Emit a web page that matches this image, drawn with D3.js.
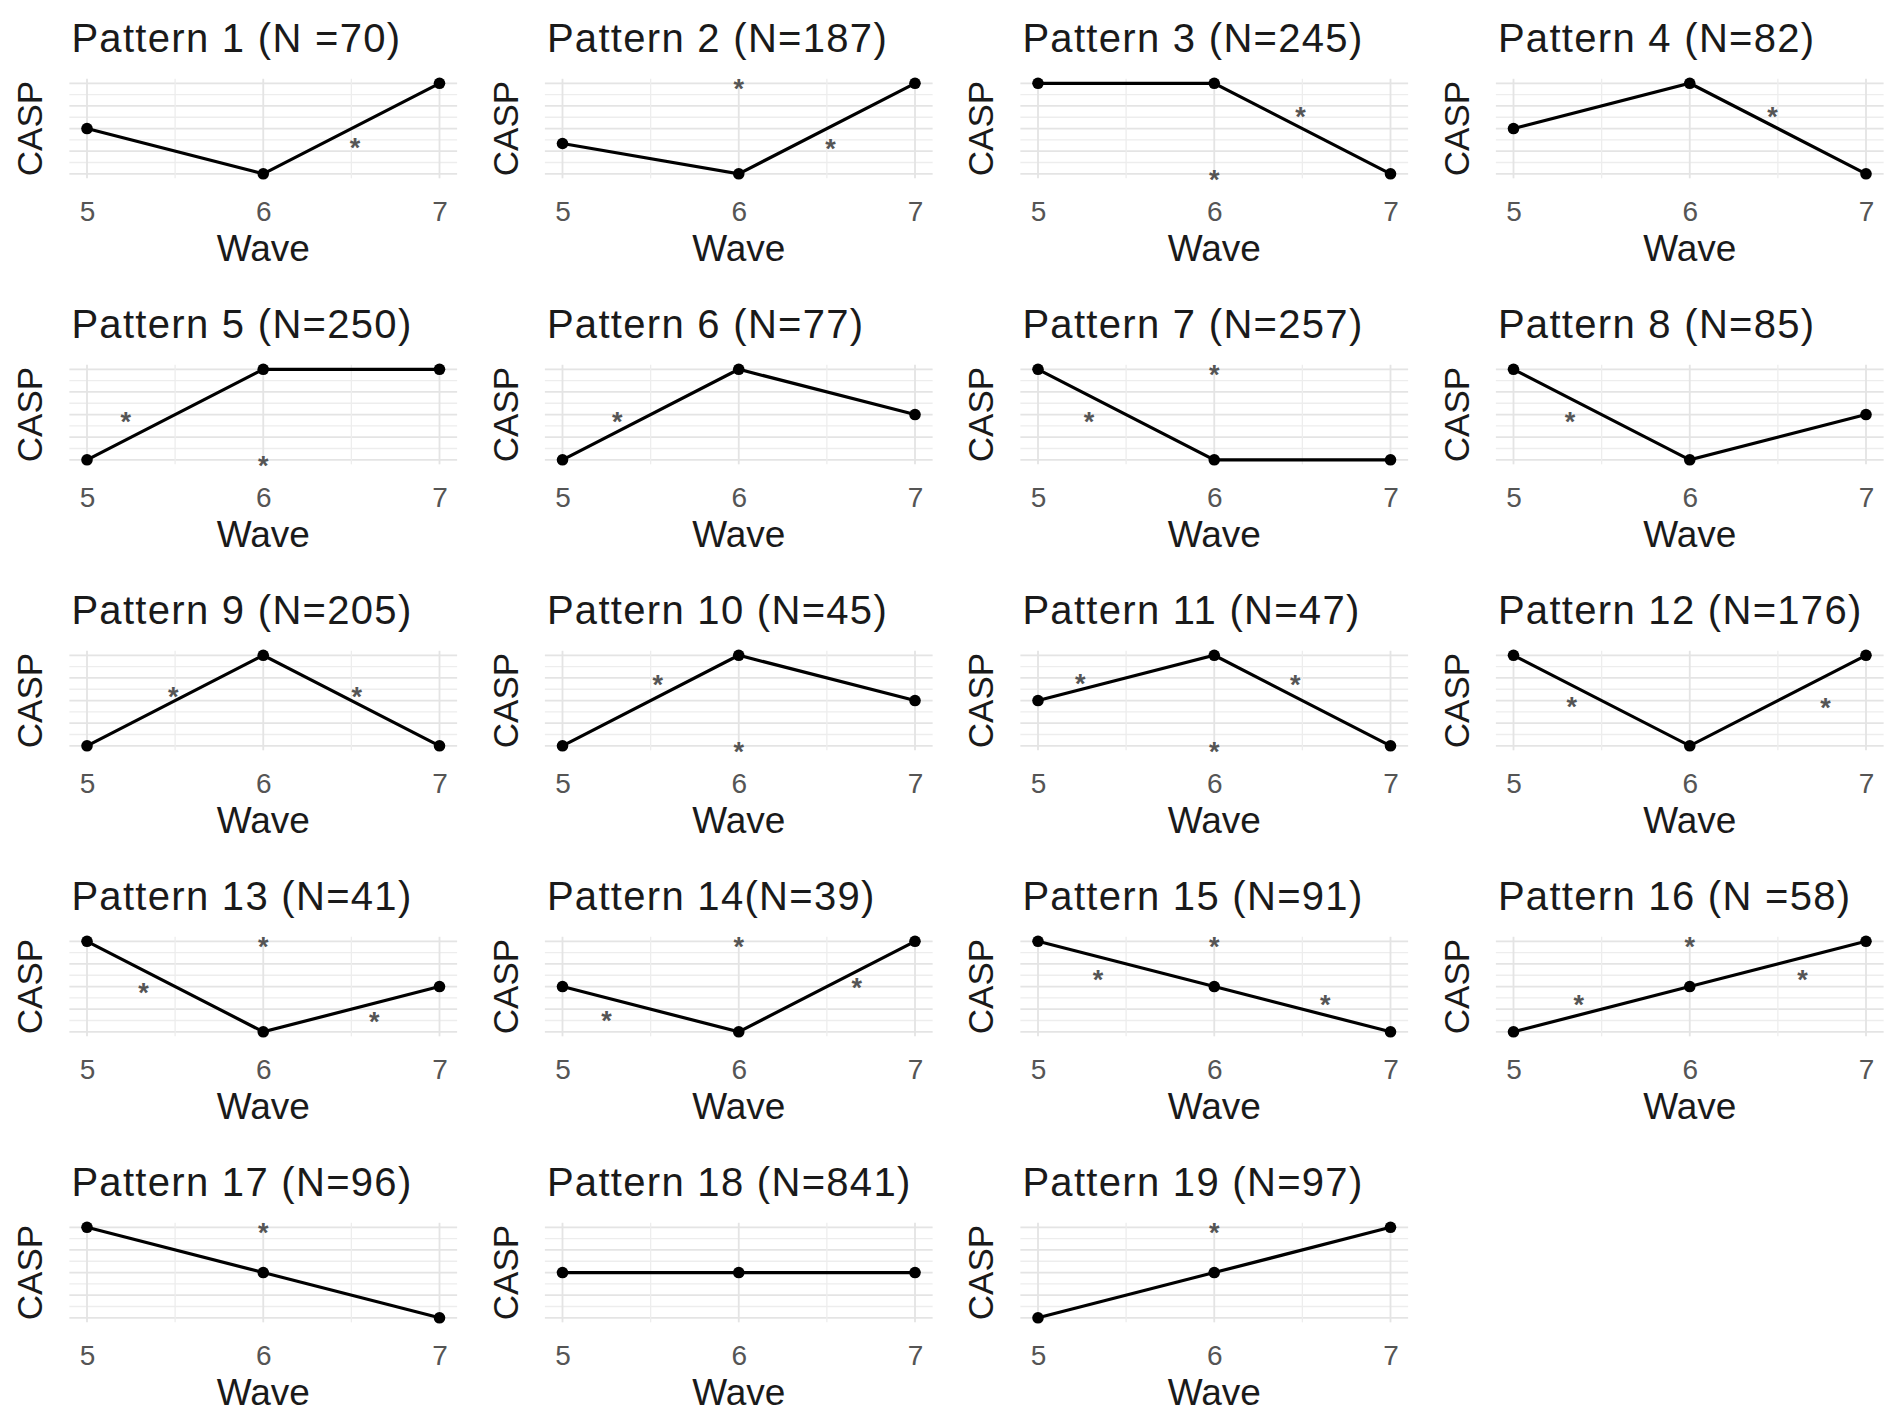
<!DOCTYPE html>
<html>
<head>
<meta charset="utf-8">
<script src="https://cdn.jsdelivr.net/npm/d3@7"></script>
<style>
body { margin: 0; background: #fff; }
text { font-family: "Liberation Sans", Arial, sans-serif; }
</style>
</head>
<body>
<div class="wrap"></div>
<script>
// waves on the x axis
var waves = [5, 6, 7];
var waveLabels = ["5", "6", "7"];

var titles = [
    "Pattern 1 (N =70)", "Pattern 2 (N=187)", "Pattern 3 (N=245)", "Pattern 4 (N=82)",
    "Pattern 5 (N=250)", "Pattern 6 (N=77)", "Pattern 7 (N=257)", "Pattern 8 (N=85)",
    "Pattern 9 (N=205)", "Pattern 10 (N=45)", "Pattern 11 (N=47)", "Pattern 12 (N=176)",
    "Pattern 13 (N=41)", "Pattern 14(N=39)", "Pattern 15 (N=91)", "Pattern 16 (N =58)",
    "Pattern 17 (N=96)", "Pattern 18 (N=841)", "Pattern 19 (N=97)"
];

// relative CASP level at waves 5, 6, 7
var casp = [
    [1, 0, 2], [0.67, 0, 2], [2, 2, 0], [1, 2, 0],
    [0, 2, 2], [0, 2, 1], [2, 0, 0], [2, 0, 1],
    [0, 2, 0], [0, 2, 1], [1, 2, 0], [2, 0, 2],
    [2, 0, 1], [1, 0, 2], [2, 1, 0], [0, 1, 2],
    [2, 1, 0], [1, 1, 1], [0, 1, 2]
];

// significance marks [wave, level]
var stars = [
    [[6.52, 0.7]],
    [[6, 2], [6.52, 0.68]],
    [[6.49, 1.4], [6, 0]],
    [[6.47, 1.4]],
    [[5.22, 0.98], [6, 0]],
    [[5.31, 0.98]],
    [[6, 2], [5.29, 0.98]],
    [[5.32, 0.98]],
    [[5.49, 1.22], [6.53, 1.22]],
    [[5.54, 1.47], [6, 0]],
    [[5.24, 1.49], [6.46, 1.47], [6, 0]],
    [[5.33, 1.0], [6.77, 0.96]],
    [[6, 2], [5.32, 0.99], [6.63, 0.36]],
    [[6, 2], [5.25, 0.38], [6.67, 1.1]],
    [[6, 2], [5.34, 1.28], [6.63, 0.73]],
    [[6, 2], [5.37, 0.73], [6.64, 1.28]],
    [[6, 2]],
    [],
    [[6, 2]]
];

var yBreaks = [0, 0.5, 1, 1.5, 2];
var yMinor = [0.25, 0.75, 1.25, 1.75];
var xMinor = [5.5, 6.5];

var W = 1902, H = 1423;
var colStep = 475.5, rowStep = 286;
var x0 = 87, xSpan = 352.5, y0 = 83.3, ySpan = 90.5;

var svg = d3.select(".wrap").append("svg")
    .attr("width", W)
    .attr("height", H);
svg.append("rect").attr("width", W).attr("height", H).attr("fill", "#fff");

titles.forEach(function (title, i) {
    var col = i % 4,
        row = Math.floor(i / 4),
        left = x0 + col * colStep,
        top = y0 + row * rowStep;

    var xScale = d3.scaleLinear().domain([5, 7]).range([left, left + xSpan]);
    var yScale = d3.scaleLinear().domain([0, 2]).range([top + ySpan, top]);
    var xa = xScale(4.9), xb = xScale(7.1),
        ya = yScale(-0.1), yb = yScale(2.1);

    var g = svg.append("g");

    // grid
    g.selectAll(".hmin").data(yMinor).enter().append("line")
        .attr("x1", xa).attr("x2", xb)
        .attr("y1", function (d) { return yScale(d); })
        .attr("y2", function (d) { return yScale(d); })
        .attr("stroke", "#ededed").attr("stroke-width", 1.3);
    g.selectAll(".hmaj").data(yBreaks).enter().append("line")
        .attr("x1", xa).attr("x2", xb)
        .attr("y1", function (d) { return yScale(d); })
        .attr("y2", function (d) { return yScale(d); })
        .attr("stroke", "#e4e4e4").attr("stroke-width", 1.8);
    g.selectAll(".vmin").data(xMinor).enter().append("line")
        .attr("y1", ya).attr("y2", yb)
        .attr("x1", function (d) { return xScale(d); })
        .attr("x2", function (d) { return xScale(d); })
        .attr("stroke", "#ededed").attr("stroke-width", 1.3);
    g.selectAll(".vmaj").data(waves).enter().append("line")
        .attr("y1", ya).attr("y2", yb)
        .attr("x1", function (d) { return xScale(d); })
        .attr("x2", function (d) { return xScale(d); })
        .attr("stroke", "#e4e4e4").attr("stroke-width", 1.8);

    // x axis labels
    var xAxis = d3.axisBottom(xScale)
        .tickValues(waves)
        .tickFormat(function (d, k) { return waveLabels[k]; })
        .tickSize(0)
        .tickPadding(0);
    var ax = g.append("g")
        .attr("transform", "translate(0," + (top + ySpan + 37) + ")")
        .call(xAxis);
    ax.select(".domain").remove();
    ax.selectAll("text")
        .attr("dy", "0.35em")
        .attr("y", 0)
        .attr("fill", "#555")
        .style("font-size", "28px")
        .style("font-family", "'Liberation Sans', Arial, sans-serif");

    // line + points
    var pts = waves.map(function (w, k) { return [w, casp[i][k]]; });
    var line = d3.line()
        .x(function (d) { return xScale(d[0]); })
        .y(function (d) { return yScale(d[1]); });
    g.append("path")
        .attr("d", line(pts))
        .attr("fill", "none")
        .attr("stroke", "#000")
        .attr("stroke-width", 3.2);
    g.selectAll(".pt").data(pts).enter().append("circle")
        .attr("cx", function (d) { return xScale(d[0]); })
        .attr("cy", function (d) { return yScale(d[1]); })
        .attr("r", 5.8)
        .attr("fill", "#000");

    // asterisks
    g.selectAll(".star").data(stars[i]).enter().append("text")
        .attr("x", function (d) { return xScale(d[0]); })
        .attr("y", function (d) { return yScale(d[1]); })
        .attr("dy", "0.56em")
        .attr("text-anchor", "middle")
        .attr("fill", "#555")
        .style("font-size", "27px")
        .style("font-weight", "bold")
        .text("*");

    // titles
    g.append("text")
        .attr("x", xa + 2)
        .attr("y", top - 31)
        .attr("fill", "#1a1a1a")
        .style("font-size", "40px")
        .style("letter-spacing", "1.3px")
        .text(title);

    g.append("text")
        .attr("x", xScale(6))
        .attr("y", top + ySpan + 87)
        .attr("text-anchor", "middle")
        .attr("fill", "#1a1a1a")
        .style("font-size", "37px")
        .text("Wave");

    g.append("text")
        .attr("transform", "translate(" + (left - 45) + "," + yScale(1) + ") rotate(-90)")
        .attr("text-anchor", "middle")
        .attr("fill", "#1a1a1a")
        .style("font-size", "35px")
        .text("CASP");
});
</script>
</body>
</html>
